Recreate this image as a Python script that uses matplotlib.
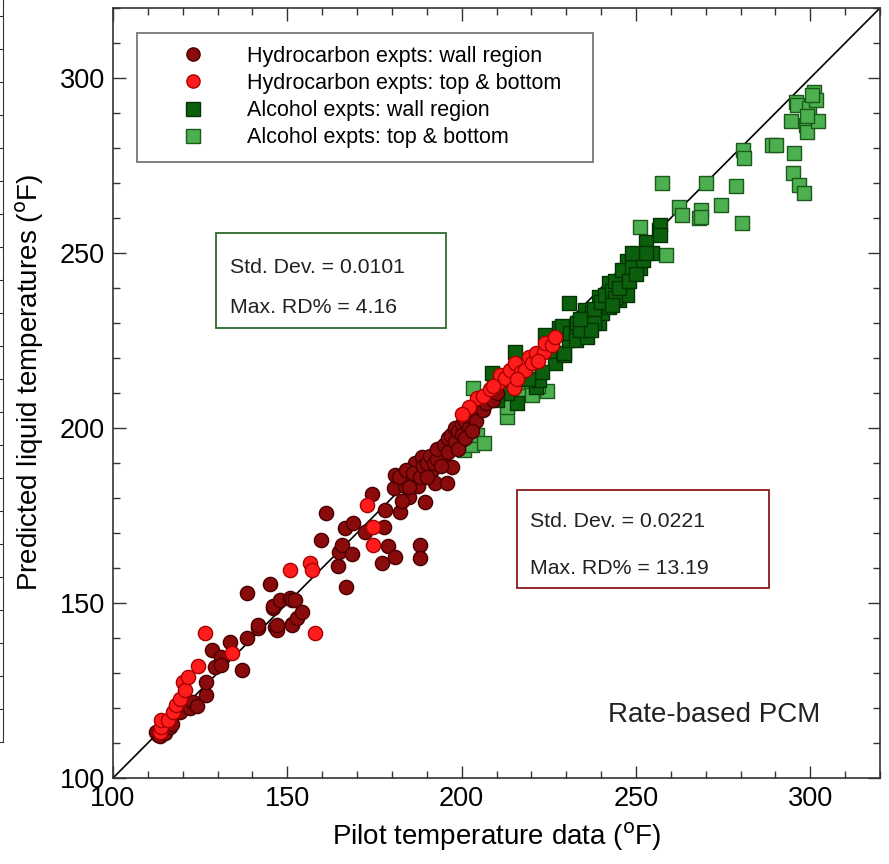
import matplotlib
matplotlib.use("Agg")
import matplotlib.pyplot as plt
from matplotlib.lines import Line2D
from matplotlib.patches import Rectangle
from matplotlib.ticker import MultipleLocator

plt.rcParams["font.family"] = ["Liberation Sans", "DejaVu Sans"]

# ── data (pilot, predicted), °F ─────────────────────────────────────────────
hc_wall = [
    (112.9, 112.3), (112.4, 113.2), (113.5, 112.0), (114.2, 113.5), (115.0, 112.8),
    (116.3, 114.7), (117.0, 115.5), (119.1, 118.9), (122.0, 119.9), (123.0, 121.8),
    (124.0, 120.5), (126.8, 123.7), (126.8, 127.5), (128.3, 136.6), (129.2, 131.8),
    (131.1, 134.7), (131.1, 132.3), (133.5, 138.9), (136.9, 130.9), (138.3, 139.9),
    (138.3, 152.9), (141.7, 142.8), (141.7, 143.7), (145.0, 155.3), (146.0, 148.5),
    (146.0, 149.0), (146.5, 143.2), (147.0, 142.3), (147.0, 143.7), (147.9, 150.9),
    (150.8, 151.3), (151.2, 150.9), (151.2, 144.1), (151.2, 143.7), (152.2, 150.9),
    (152.7, 145.6), (154.1, 147.5), (161.0, 175.6), (159.7, 168.0), (164.4, 160.6),
    (164.7, 164.7), (165.6, 166.6), (166.6, 171.3), (166.7, 154.7), (168.5, 164.0),
    (168.7, 172.9), (172.3, 170.4), (174.2, 181.1), (177.1, 161.5), (177.6, 171.8),
    (178.1, 176.6), (178.8, 166.3), (180.5, 182.8), (180.9, 186.6), (180.9, 163.2),
    (182.4, 176.1), (183.8, 183.4), (184.8, 180.4), (185.7, 186.1), (186.7, 189.9),
    (187.6, 183.4), (188.1, 166.6), (188.1, 162.8), (188.6, 191.8), (189.5, 178.9),
    (191.4, 188.0), (192.4, 184.2), (195.3, 192.7), (195.8, 184.2), (197.2, 188.9),
    (200.1, 196.6), (182.0, 186.0), (184.0, 188.0), (185.0, 183.0), (183.0, 179.0),
    (186, 187), (188, 186), (189, 189), (190, 190), (190, 186), (191, 192), (192, 190),
    (193, 191), (193, 194), (194, 189), (195, 195), (196, 197), (196, 193), (197, 198),
    (198, 196), (198, 200), (199, 199), (200, 201), (200, 198), (201, 202), (202, 200),
    (202, 204), (203, 203), (204, 205), (204, 202), (205, 206), (206, 205), (206, 208),
    (207, 207), (208, 209), (209, 208), (210, 210), (199, 194), (201, 197), (203, 199),
]

hc_topbot = [
    (113.4, 113.2), (113.9, 114.7), (113.9, 116.6), (115.8, 116.6), (117.2, 118.9),
    (118.2, 120.9), (119.1, 122.7), (120.1, 127.5), (120.6, 125.1), (121.6, 128.9),
    (124.4, 132.0), (126.3, 141.3), (134.0, 135.6), (150.8, 159.4), (156.5, 161.3),
    (157.0, 159.4), (157.8, 141.4), (172.8, 178.0), (174.7, 171.8), (174.7, 166.6),
    (204.4, 208.5), (206.0, 209.0), (208.0, 211.0), (210.6, 213.2), (211.1, 215.1),
    (212.5, 214.2), (214.0, 216.6), (214.9, 211.3), (215.4, 218.5), (217.0, 216.0),
    (218.3, 216.6), (219.3, 220.4), (220.2, 218.5), (221.2, 221.3), (223.6, 221.8),
    (224.0, 224.2), (226.0, 223.7), (226.9, 226.1), (222.0, 219.0), (216.0, 214.0),
    (209.0, 212.0), (202.0, 206.0), (200.0, 204.0),
]

alc_wall = [
    (208.6, 215.7), (215.4, 221.8), (215.8, 207.1), (221.2, 211.8), (222.1, 213.7),
    (224.0, 226.6), (226.9, 218.5), (227.9, 228.6), (228.8, 229.0), (229.3, 220.9),
    (229.3, 221.3), (230.7, 225.1), (230.7, 235.6), (231.2, 227.0), (232.7, 227.0),
    (232.7, 225.1), (235.5, 229.0), (235.5, 233.7), (236.0, 226.1), (237.4, 232.8),
    (239.4, 229.9), (239.4, 237.5), (240.3, 232.8), (242.2, 241.3), (242.2, 234.7),
    (245.1, 236.6), (246.1, 242.3), (247.5, 247.7), (247.5, 244.7), (247.5, 238.0),
    (250.9, 249.1), (251.3, 245.6), (252.8, 253.2), (254.7, 250.0), (256.6, 256.6),
    (257.0, 258.0), (257.0, 255.1), (233, 230), (234, 228), (236, 231), (238, 234),
    (238, 230), (240, 236), (241, 238), (243, 239), (244, 237), (244, 242), (245, 240),
    (246, 245), (248, 242), (249, 246), (250, 244), (252, 248), (253, 250), (249, 250),
    (243, 235), (237, 228), (234, 231), (225, 222), (223, 216), (219, 214), (213, 210),
    (210, 208),
]

alc_topbot = [
    (200.6, 193.7), (203.0, 195.1), (203.4, 211.3), (204.4, 198.0), (206.3, 195.6),
    (209.2, 215.1), (213.0, 203.2), (213.0, 206.1), (217.8, 210.9), (220.2, 209.4),
    (224.5, 210.6), (222.0, 212.0), (216.0, 213.0), (251.3, 257.5), (257.6, 269.9),
    (258.5, 249.4), (262.4, 263.2), (263.3, 260.9), (268.1, 259.9), (268.6, 262.3),
    (268.6, 260.4), (270.0, 269.9), (274.3, 263.7), (278.6, 269.0), (280.4, 258.6),
    (280.6, 279.4), (281.0, 277.1), (289.1, 280.9), (290.1, 280.9), (294.4, 287.7),
    (295.0, 272.8), (295.4, 278.5), (295.8, 293.2), (296.3, 292.3), (296.8, 269.4),
    (298.3, 267.1), (298.8, 286.6), (299.2, 284.7), (299.7, 291.3), (301.1, 296.1),
    (301.6, 293.7), (302.1, 287.7), (300.5, 295.0), (299.0, 289.0),
]

LABELS = ["Hydrocarbon expts: wall region", "Hydrocarbon expts: top & bottom",
          "Alcohol expts: wall region", "Alcohol expts: top & bottom"]
STATS_ALC = ["Std. Dev. = 0.0101", "Max. RD% = 4.16"]
STATS_HC = ["Std. Dev. = 0.0221", "Max. RD% = 13.19"]
LIMITS = (100, 320)

# (face, edge, marker)
STYLE = {
    "hc_wall": ("#8a0b0b", "#4a0000", "o"),
    "hc_top": ("#ff1c1c", "#a80000", "o"),
    "alc_wall": ("#0c5f0c", "#023302", "s"),
    "alc_top": ("#4caf50", "#1c5a1c", "s"),
}

W, H = 889, 864
fig = plt.figure(figsize=(W / 100, H / 100), dpi=100)
ax = fig.add_axes([113 / W, 1 - 778 / H, 767 / W, 770 / H])

# remnant of a neighbouring panel at the far left
ax0 = fig.add_axes([(3 - 200) / W, 1 - 742 / H, 200 / W, 742 / H])
for s in ["left", "top", "bottom"]:
    ax0.spines[s].set_visible(False)
ax0.spines["right"].set_color("#333333")
ax0.set_ylim(0, 22.5)
ax0.yaxis.set_major_locator(MultipleLocator(1))
ax0.tick_params(axis="y", direction="in", right=True, left=False, labelleft=False,
                length=3, color="#333333")
ax0.set_xticks([])

ax.plot(LIMITS, LIMITS, color="black", lw=1.2, zorder=1)


def scatter(pts, key, z):
    face, edge, m = STYLE[key]
    xs = [p[0] for p in pts]
    ys = [p[1] for p in pts]
    ax.scatter(xs, ys, s=105, marker=m, facecolor=face, edgecolor=edge,
               linewidth=1.0, zorder=z)


scatter(alc_topbot, "alc_top", 2)
scatter(alc_wall, "alc_wall", 3)
scatter(hc_wall, "hc_wall", 4)
scatter(hc_topbot, "hc_top", 5)

ax.set_xlim(*LIMITS)
ax.set_ylim(*LIMITS)
for a in (ax.xaxis, ax.yaxis):
    a.set_major_locator(MultipleLocator(50))
    a.set_minor_locator(MultipleLocator(10))
ax.tick_params(which="both", direction="in", top=True, right=True, labelsize=19.5,
               color="#333333", pad=6)
ax.tick_params(which="major", length=9, width=1.0)
ax.tick_params(which="minor", length=5, width=1.0)
for s in ax.spines.values():
    s.set_linewidth(1.2)
    s.set_color("#333333")

ax.set_xlabel("Pilot temperature data ($^{\\rm o}$F)", fontsize=20, labelpad=6)
ax.set_ylabel("Predicted liquid temperatures ($^{\\rm o}$F)", fontsize=20)
ax.yaxis.set_label_coords(-0.087, (778 - 382) / 770)


def px(x, y):
    # reference pixel -> axes fraction
    return (x - 113) / 767, (778 - y) / 770


def box(x0, y0, x1, y1, edge):
    a, b = px(x0, y1)
    c, d = px(x1, y0)
    ax.add_patch(Rectangle((a, b), c - a, d - b, transform=ax.transAxes,
                           facecolor="white", edgecolor=edge, lw=1.3, zorder=6))


# legend drawn with a hand-placed frame
box(137, 33, 593, 162, "#777777")
handles = [Line2D([], [], ls="", marker=STYLE[k][2], markersize=9.5,
                  markerfacecolor=STYLE[k][0], markeredgecolor=STYLE[k][1])
           for k in ["hc_wall", "hc_top", "alc_wall", "alc_top"]]
lx, ly = px(171.5, 46)
leg = ax.legend(handles, LABELS, loc="upper left", bbox_to_anchor=(lx, ly),
                frameon=False, fontsize=15.5, handlelength=2.0, handletextpad=1.5,
                labelspacing=0.28, borderpad=0, borderaxespad=0)
leg.set_zorder(7)

# stats boxes
box(216, 233, 446, 328, "#2e6b2e")
for txt, yy in zip(STATS_ALC, [268, 308]):
    ax.text(*px(230, yy), txt, transform=ax.transAxes, fontsize=15.3, va="center",
            ha="left", color="#222222", zorder=7)
box(517, 490, 769, 588, "#8b1a1a")
for txt, yy in zip(STATS_HC, [522, 568]):
    ax.text(*px(530, yy), txt, transform=ax.transAxes, fontsize=15.3, va="center",
            ha="left", color="#222222", zorder=7)

ax.text(*px(820, 715), "Rate-based PCM", transform=ax.transAxes, fontsize=20,
        ha="right", va="center", color="#222222")

fig.savefig("out.png", dpi=100)
